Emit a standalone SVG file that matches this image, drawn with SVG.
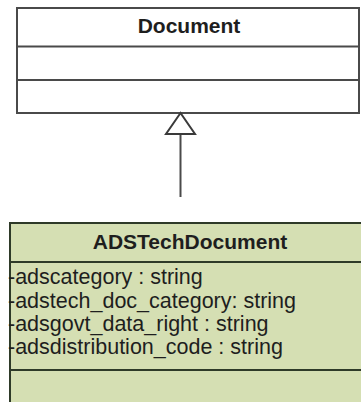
<svg xmlns="http://www.w3.org/2000/svg" width="361" height="402" viewBox="0 0 361 402">
<style>
.box{stroke:#4a4a4a;stroke-width:2}
.g{fill:#d5dfb3;stroke:#2e3a28}
.t{font-family:"Liberation Sans",Arial,sans-serif;fill:#1e1e1e}
.b{font-weight:bold;font-size:21px;text-anchor:middle}
.a{font-size:21.5px}
</style>
<rect width="361" height="402" fill="#ffffff"/>
<g id="Document">
<rect class="box" x="17" y="8" width="342" height="105" fill="#ffffff"/>
<line class="box" x1="17" y1="46.5" x2="359" y2="46.5"/>
<line class="box" x1="17" y1="80" x2="359" y2="80"/>
<text class="t b" x="189" y="33">Document</text>
</g>
<g id="ADSTechDocument">
<rect class="box g" x="10" y="223" width="352" height="190"/>
<line class="box g" x1="10" y1="262" x2="362" y2="262"/>
<line class="box g" x1="10" y1="370" x2="362" y2="370"/>
<text class="t b" x="190" y="249">ADSTechDocument</text>
<text class="t a" x="8" y="284">-adscategory : string</text>
<text class="t a" x="8" y="308">-adstech_doc_category: string</text>
<text class="t a" x="8" y="331">-adsgovt_data_right : string</text>
<text class="t a" x="8" y="354">-adsdistribution_code : string</text>
</g>
<g id="connectors">
<line x1="180.5" y1="134" x2="180.5" y2="197" stroke="#4a4a4a" stroke-width="2"/>
<polygon points="180.5,113 166,134 195,134" fill="#ffffff" stroke="#3a3a3a" stroke-width="2"/>
</g>
</svg>
